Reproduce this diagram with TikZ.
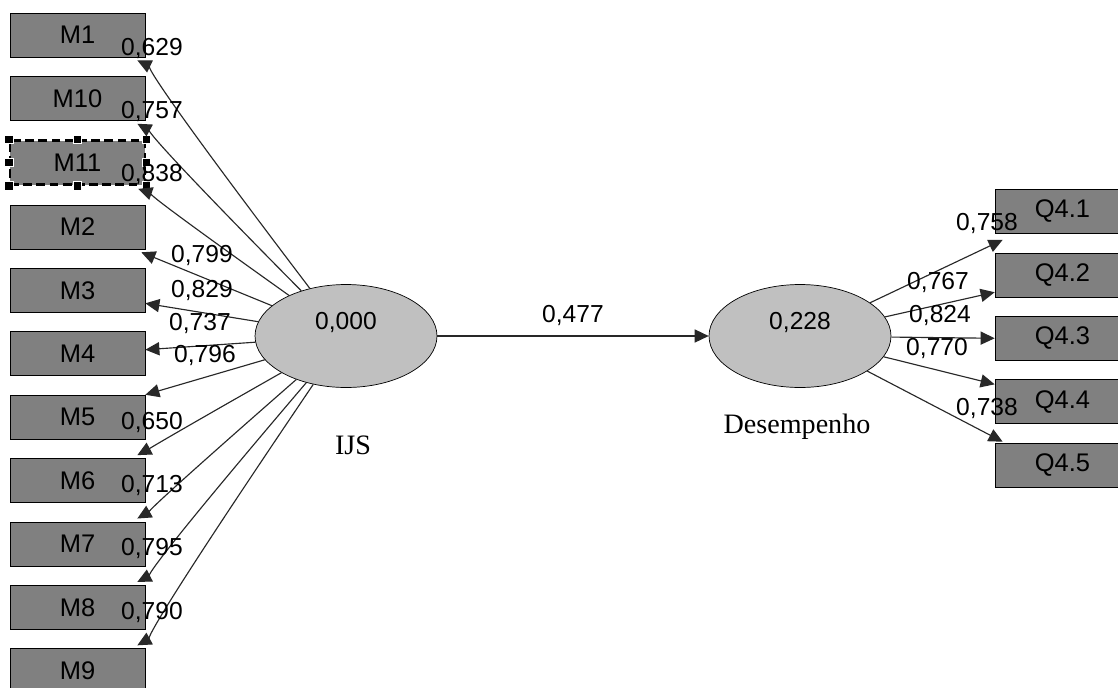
\documentclass[tikz,border=0pt]{standalone}
\usepackage{fontspec}
\setmainfont{Liberation Serif}
\setsansfont{Liberation Sans}
\usetikzlibrary{positioning, shapes.geometric, arrows.meta}
\definecolor{indgray}{RGB}{128,128,128}
\definecolor{lvgray}{RGB}{192,192,192}
\definecolor{pathgray}{RGB}{40,40,40}

\begin{document}
\begin{tikzpicture}[x=0.02cm, y=-0.02cm, node distance={0.374cm},
    ind/.style = {draw, fill=indgray, minimum width=2.7cm, minimum height=0.88cm, inner sep=0pt, font=\sffamily\fontsize{14.5}{16}\selectfont},
    lv/.style = {draw, ellipse, fill=lvgray, minimum width=3.64cm, minimum height=2.06cm, inner sep=0pt},
    lvval/.style = {font=\sffamily\fontsize{14}{16}\selectfont, yshift=0.28cm},
    lvname/.style = {font=\fontsize{16}{18}\selectfont},
    coef/.style = {font=\sffamily\fontsize{14}{16}\selectfont, inner sep=0pt},
    arr/.style = {draw=pathgray, line width=0.65pt, -{Triangle[length=8pt, width=7.5pt]}},
    selbox/.style = {line width=1.4pt, dash pattern=on 5pt off 2.5pt},
    handle/.style = {draw=white, fill=black, line width=0.5pt, minimum size=0.17cm, inner sep=0pt}]

    \clip (0,0) rectangle (1118,687);

    % indicators of IJS
    \node[ind] (m1) at (77.5,35) {M1};
    \node[ind] (m10) [below=of m1] {M10};
    \node[ind, selbox] (m11) [below=of m10] {M11};
    \node[ind] (m2) [below=of m11] {M2};
    \node[ind] (m3) [below=of m2] {M3};
    \node[ind] (m4) [below=of m3] {M4};
    \node[ind] (m5) [below=of m4] {M5};
    \node[ind] (m6) [below=of m5] {M6};
    \node[ind] (m7) [below=of m6] {M7};
    \node[ind] (m8) [below=of m7] {M8};
    \node[ind] (m9) [below=of m8] {M9};

    % selection handles
    \path (m11.north west) node[handle] (h1) {} (m11.north) node[handle] (h2) {}
          (m11.north east) node[handle] (h3) {} (m11.west) node[handle] (h4) {}
          (m11.east) node[handle] (h5) {} (m11.south west) node[handle] (h6) {}
          (m11.south) node[handle] (h7) {} (m11.south east) node[handle] (h8) {};

    % indicators of Desempenho
    \node[ind] (q41) at (1062.5,211.5) {Q4.1};
    \node[ind] (q42) [below=of q41] {Q4.2};
    \node[ind] (q43) [below=of q42] {Q4.3};
    \node[ind] (q44) [below=of q43] {Q4.4};
    \node[ind] (q45) [below=of q44] {Q4.5};

    % latent variables
    \node[lv] (ijs) at (346,336) {};
    \node[lvval] (ijsval) at (ijs) {0,000};
    \node[lvname] (ijsname) at (353,445) {IJS};
    \node[lv] (des) at (800,336) {};
    \node[lvval] (desval) at (des) {0,228};
    \node[lvname] (desname) at (797,427) {Desempenho};

    \draw[arr] (ijs) .. controls (150,78) and (147,65) .. ([shift={(-8,3)}]m1.south east);
    \draw[arr] (ijs) .. controls (152,140) and (147,129) .. ([shift={(-8,3)}]m10.south east);
    \draw[arr] (ijs) .. controls (155,200) and (147,192) .. ([shift={(-8,3)}]m11.south east);
    \draw[arr] (ijs) -- ([shift={(-4,3)}]m2.south east);
    \draw[arr] (ijs) -- ([shift={(0,13)}]m3.east);
    \draw[arr] (ijs) -- ([shift={(0,-4)}]m4.east);
    \draw[arr] (ijs) -- (m5.north east);
    \draw[arr] (ijs) .. controls (156,444) and (147,450) .. ([shift={(-8,-3)}]m6.north east);
    \draw[arr] (ijs) .. controls (154,504) and (147,513) .. ([shift={(-8,-3)}]m7.north east);
    \draw[arr] (ijs) .. controls (151,565) and (147,577) .. ([shift={(-8,-3)}]m8.north east);
    \draw[arr] (ijs) .. controls (149,627) and (147,640) .. ([shift={(-8,-3)}]m9.north east);

    \draw[arr] (ijs) -- node[coef, midway, yshift=0.42cm] (c0) {0,477} (des);

    \draw[arr] (des) -- ([shift={(8,6)}]q41.south west);
    \draw[arr] (des) -- ([shift={(0,-5)}]q42.south west);
    \draw[arr] (des) -- (q43.west);
    \draw[arr] (des) -- ([shift={(0,5)}]q44.north west);
    \draw[arr] (des) -- ([shift={(8,-1)}]q45.north west);

    % loadings
    \node[coef] (l1) at (152,48) {0,629};
    \node[coef] (l2) at (152,111) {0,757};
    \node[coef] (l3) at (152,174) {0,838};
    \node[coef] (l4) at (202,255) {0,799};
    \node[coef] (l5) at (202,290) {0,829};
    \node[coef] (l6) at (200,323) {0,737};
    \node[coef] (l7) at (205,355) {0,796};
    \node[coef] (l8) at (152,422) {0,650};
    \node[coef] (l9) at (152,485) {0,713};
    \node[coef] (l10) at (152,548) {0,795};
    \node[coef] (l11) at (152,612) {0,790};
    \node[coef] (r1) at (987,223) {0,758};
    \node[coef] (r2) at (938,282) {0,767};
    \node[coef] (r3) at (940,315) {0,824};
    \node[coef] (r4) at (937,348) {0,770};
    \node[coef] (r5) at (987,408) {0,738};

\end{tikzpicture}
\end{document}
